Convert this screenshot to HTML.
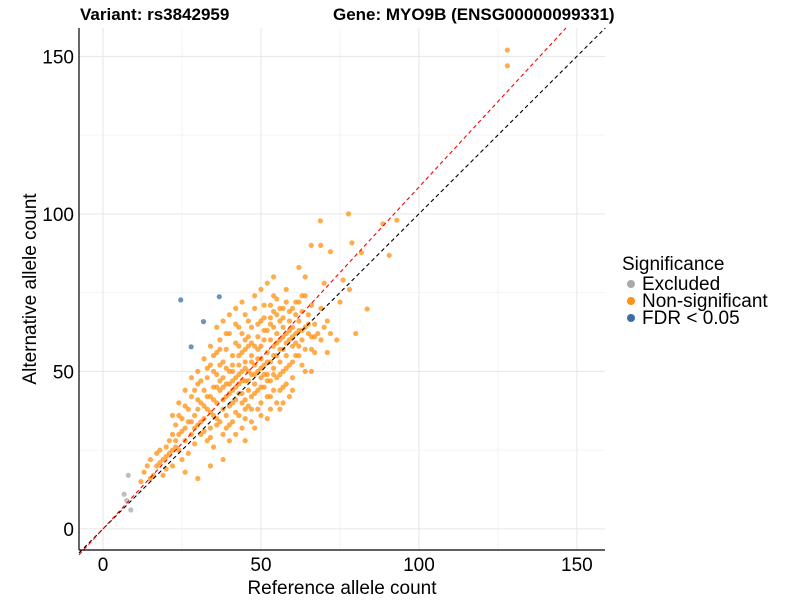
<!DOCTYPE html>
<html><head><meta charset="utf-8"><style>
html,body{margin:0;padding:0;background:#fff;}
svg{display:block;font-family:"Liberation Sans",Arial,sans-serif;}
</style></head><body>
<svg id="chart" width="800" height="600" viewBox="0 0 800 600"></svg>
<script>
const xTicks=[0,50,100,150];
const yTicks=[0,50,100,150];
const xMinor=[25,75,125];
const yMinor=[25,75,125];
const redSlope=1.085;
const excluded=[[8,17],[6.7,11],[8.8,6],[7.5,9]];
const fdr=[[24.6,72.7],[36.8,73.7],[31.8,65.8],[27.9,57.8]];
const nonsig=[[128,152],[128,147],[77.7,100],[68.8,97.8],[93,98],[88.6,96.8],[78.8,90.8],[90.6,86.8],[81.8,87.7],[65.9,90],[68.9,90],[83.6,69.8],[76,79],[72,88],[62,83],[64,80],[70,78],[78,76],[75,72],[66,71],[71,66],[80,62],[74,60],[69,60],[67,56],
[12,15],[13,18],[15,22],[16,17],[17,20],[18,25],[19,22],[20,19],[20,26],[21,24],[22,30],[22,20],[23,28],[23,33],[24,25],[24,36],[25,31],[25,22],[26,28],[26,39],[27,34],[27,24],[28,30],[28,42],[29,36],[29,27],[30,33],[30,46],[30,38],[31,40],[31,30],[32,35],[32,44],[33,28],[33,48],[33,38],[34,42],[34,32],[34,52],[35,36],[35,45],[35,26],[36,40],[36,49],[36,56],[37,34],[37,44],[37,60],[38,38],[38,48],[38,30],[38,53],[39,42],[39,57],[39,36],[40,46],[40,50],[40,62],[40,33],[41,40],[41,55],[41,44],[42,48],[42,59],[42,37],[42,65],[43,43],[43,52],[43,46],[44,50],[44,40],[44,56],[44,62],[45,47],[45,53],[45,35],[45,68],[46,44],[46,58],[46,50],[46,61],[47,49],[47,42],[47,55],[47,64],[48,52],[48,46],[48,58],[48,70],[49,50],[49,44],[49,61],[49,38],[50,54],[50,48],[50,66],[50,58],[51,52],[51,45],[51,60],[51,71],[52,56],[52,49],[52,63],[52,42],[53,53],[53,60],[53,67],[53,47],[54,58],[54,51],[54,64],[54,74],[55,55],[55,62],[55,48],[55,68],[56,60],[56,53],[56,66],[56,44],[57,57],[57,64],[57,70],[57,50],[58,62],[58,55],[58,76],[58,46],[59,60],[59,66],[59,52],[60,64],[60,58],[60,70],[60,48],[61,62],[61,68],[61,55],[62,66],[62,58],[62,72],[63,60],[63,69],[63,52],[64,64],[64,74],[65,62],[65,68],[66,57],[67,65],[68,62],[69,70],[70,64],[71,56],[72,62],[59,42],[56,38],[52,35],[48,32],[45,28],[42,30],[38,22],[34,20],[30,16],[26,18],[40,28],[44,32],[50,40],[54,44],[60,44],[64,50],[66,50],[28,48],[26,44],[24,40],[22,36],[32,54],[34,58],[30,50],[36,64],[40,68],[44,72],[46,66],[42,70],[48,74],[50,76],[52,78],[54,80],[38,66],[35,50],[37,52],[39,46],[41,50],[43,58],[45,41],[47,38],[49,54],[51,49],[53,42],[55,40],[57,45],[45,60],[43,64],[39,62],[31,34],[29,32],[27,38],[25,35],[23,26],[21,28],[19,17],[17,24],[15,16],[14,20],[33,42],[35,41],[37,47],[61,72],[63,74],[58,72],[56,70],[54,69],
[29,44],[31,47],[33,51],[35,55],[37,57],[39,51],[41,47],[43,49],[45,51],[47,53],[49,57],[51,63],[53,65],[55,59],[57,61],[59,63],[61,59],[63,63],[65,65],[67,61],[30,41],[32,39],[34,37],[36,33],[38,41],[40,43],[42,45],[44,47],[46,47],[48,49],[50,51],[52,53],[54,55],[56,57],[58,59],[60,61],[62,63],[36,45],[38,45],[40,39],[42,41],[44,43],[46,39],[48,43],[50,45],[52,47],[54,49],[56,49],[58,51],[60,53],[62,55],[64,57],[66,61],[41,52],[43,55],[45,57],[47,59],[49,65],[51,67],[53,71],[55,73],[57,67],[59,69],[32,31],[34,29],[36,35],[28,34],[26,32],[24,30],[22,25],[20,23],[18,21],[39,32],[41,34],[43,36],[45,38],[47,34],[50,36],[53,38],[57,40]];

const svg=document.getElementById('chart');
const NS='http://www.w3.org/2000/svg';
const L=79,R=605,T=28,B=550;
const xd=[-7.6,158.9],yd=[-6.7,159];
const sx=v=>L+(v-xd[0])/(xd[1]-xd[0])*(R-L);
const sy=v=>B-(v-yd[0])/(yd[1]-yd[0])*(B-T);
function mk(tag,attrs,parent){const e=document.createElementNS(NS,tag);for(const k in attrs)e.setAttribute(k,attrs[k]);(parent||svg).appendChild(e);return e;}

const grid=mk('g',{});


xMinor.forEach(v=>{const l=mk('line',{x1:sx(v),x2:sx(v),y1:T,y2:B,stroke:'#f0f0f0','stroke-width':0.7},grid);});
yMinor.forEach(v=>{const l=mk('line',{x1:L,x2:R,y1:sy(v),y2:sy(v),stroke:'#f0f0f0','stroke-width':0.7},grid);});
xTicks.forEach(v=>{const l=mk('line',{x1:sx(v),x2:sx(v),y1:T,y2:B,stroke:'#e6e6e6','stroke-width':1},grid);});
yTicks.forEach(v=>{const l=mk('line',{x1:L,x2:R,y1:sy(v),y2:sy(v),stroke:'#e6e6e6','stroke-width':1},grid);});

const pts=mk('g',{});


function drawSet(arr,color,name){arr.forEach(p=>{const c=mk('circle',{cx:sx(p[0]),cy:sy(p[1]),r:2.6,fill:color,'fill-opacity':0.75},pts);});}
drawSet(excluded,'#aaaaaa','point-excluded');
drawSet(nonsig,'#ff9010','point-non-significant');
drawSet(fdr,'#3c6ea5','point-fdr');

const yTopV=yd[1];
const bl=mk('line',{x1:sx(xd[0]),y1:sy(xd[0]),x2:sx(yTopV),y2:sy(yTopV),stroke:'#000','stroke-width':1.1,'stroke-dasharray':'4,3'});


const rl=mk('line',{x1:sx(xd[0]),y1:sy(xd[0]*redSlope),x2:sx(yTopV/redSlope),y2:sy(yTopV),stroke:'#ff0000','stroke-width':1.1,'stroke-dasharray':'4,3'});



const ax=mk('line',{x1:L,x2:L,y1:T,y2:B,stroke:'#000','stroke-width':1.2});


const axx=mk('line',{x1:L,x2:R,y1:B,y2:B,stroke:'#000','stroke-width':1.2});


xTicks.forEach(v=>{const t=mk('text',{x:sx(v),y:B+21,'text-anchor':'middle','font-size':19,fill:'#000'});t.textContent=v;});
yTicks.forEach(v=>{const t=mk('text',{x:L-5,y:sy(v)+7,'text-anchor':'end','font-size':19,fill:'#000'});t.textContent=v;});
</script>
<svg style="position:absolute;left:0;top:0" width="800" height="600">
<text x="80" y="20" font-size="17" font-weight="bold" font-family="Liberation Sans, sans-serif">Variant: rs3842959</text>
<text x="333" y="20" font-size="17" font-weight="bold" font-family="Liberation Sans, sans-serif">Gene: MYO9B (ENSG00000099331)</text>
<text x="342" y="594" text-anchor="middle" font-size="19" font-family="Liberation Sans, sans-serif">Reference allele count</text>
<text transform="translate(36,289) rotate(-90)" text-anchor="middle" font-size="19" font-family="Liberation Sans, sans-serif">Alternative allele count</text>
<g font-family="Liberation Sans, sans-serif" font-size="19">
<text x="622" y="270">Significance</text>
<circle cx="631" cy="284" r="4" fill="#aaaaaa"/>
<text x="642" y="290">Excluded</text>
<circle cx="631" cy="301" r="4" fill="#ff9010"/>
<text x="642" y="307">Non-significant</text>
<circle cx="631" cy="318" r="4" fill="#3c6ea5"/>
<text x="642" y="324">FDR &lt; 0.05</text>
</g>
</svg>
</body></html>
